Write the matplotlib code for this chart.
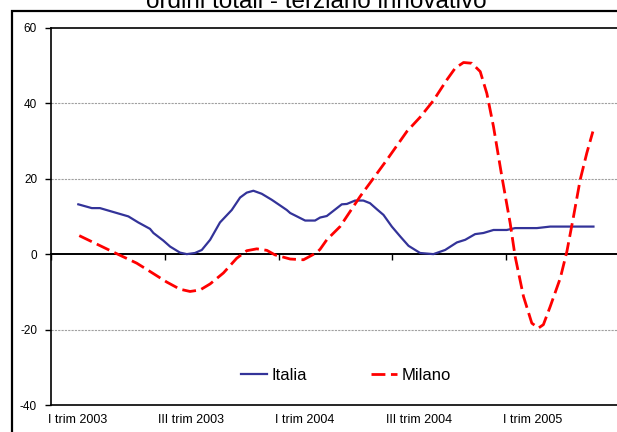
import matplotlib
matplotlib.use('Agg')
import matplotlib.pyplot as plt
from matplotlib.patches import Rectangle

# time in months from the left edge of the axis
italia_mesi = [1.44, 2.15, 2.58, 4.08, 4.60, 5.22, 5.40, 5.92, 6.28, 6.80, 7.16,
               7.59, 7.95, 8.39, 8.91, 9.53, 9.97, 10.32, 10.67, 11.11, 11.64,
               12.08, 12.43, 12.61, 13.40, 13.92, 14.19, 14.54, 15.33, 15.60,
               16.03, 16.47, 16.82, 17.18, 17.53, 17.97, 18.41, 18.85, 19.46,
               20.16, 20.78, 21.40, 21.84, 22.36, 22.80, 23.33, 24.03, 24.47,
               25.62, 26.32, 28.60]
italia = [13.2, 12.2, 12.2, 10.0, 8.4, 6.7, 5.6, 3.6, 2.0, 0.4, 0.0,
          0.3, 1.1, 3.8, 8.4, 11.7, 15.0, 16.3, 16.8, 16.0, 14.4,
          12.9, 11.7, 10.9, 8.9, 8.9, 9.7, 10.1, 13.2, 13.3,
          14.2, 14.2, 13.5, 11.9, 10.4, 7.3, 4.7, 2.2, 0.3,
          0.0, 1.1, 3.1, 3.8, 5.3, 5.6, 6.4, 6.4, 6.9,
          6.9, 7.3, 7.3]

milano_mesi = [1.49, 3.47, 4.52, 5.22, 6.10, 6.80, 7.33, 7.86, 8.39, 9.09, 9.79,
               10.32, 10.85, 11.38, 11.81, 12.61, 13.31, 14.01, 14.19, 14.54,
               15.24, 16.30, 17.00, 17.71, 18.76, 19.46, 20.16, 20.87, 21.31,
               21.75, 22.19, 22.63, 22.98, 23.33, 23.77, 24.21, 24.47, 24.91,
               25.35, 25.70, 25.96, 26.32, 26.85, 27.20, 27.55, 27.90, 28.25,
               28.57]
milano = [4.9, 0.1, -2.4, -4.6, -7.4, -9.3, -9.9, -9.5, -7.9, -5.0, -1.1,
          0.9, 1.4, 1.0, -0.2, -1.3, -1.5, 0.4, 1.3, 3.8,
          7.3, 15.3, 20.1, 25.0, 32.5, 36.3, 40.7, 46.2, 49.3,
          50.8, 50.6, 48.4, 42.6, 33.8, 20.6, 8.2, -0.6, -11.2,
          -18.3, -19.6, -18.7, -13.9, -6.4, 0.7, 10.0, 19.7, 26.8,
          32.5]

etichette = ['I trim 2003', 'III trim 2003', 'I trim 2004', 'III trim 2004',
             'I trim 2005']
etichette_pos = [1.4, 7.4, 13.4, 19.4, 25.4]
tacche = [0, 6, 12, 18, 24, 30]

plt.rcParams['font.family'] = ['Liberation Sans', 'DejaVu Sans']

W, H = 617, 432
fig = plt.figure(figsize=(W / 100, H / 100), dpi=100)

# outer chart frame (partly cut off by the image edge)
fig.patches.append(Rectangle((12 / W, -0.1), 1.2, 1.1 - 11 / H,
                             transform=fig.transFigure, fill=False,
                             edgecolor='black', linewidth=1.6))
# the title sits mostly above the image, as in the original
fig.text(316 / W, 1 - 7.5 / H, 'ordini totali - terziario innovativo',
         ha='center', va='baseline', fontsize=17.5)

ax = fig.add_axes([51 / W, 1 - 405 / H, 569 / W, (405 - 27.8) / H])
ax.set_xlim(0, 30)
ax.set_ylim(-40, 60)

for y in (-20, 20, 40):
    ax.axhline(y, color='#a0a0a0', linewidth=0.8, linestyle=(0, (2, 1)),
               zorder=1)

ax.plot(italia_mesi, italia, color='#333399', linewidth=1.6, zorder=3,
        label='Italia')
ax.plot(milano_mesi, milano, color='#ff0000', linewidth=2.0, zorder=3,
        linestyle=(0, (5, 2)), label='Milano')

for s in ax.spines.values():
    s.set_color('black')
    s.set_linewidth(1.2)

ax.set_yticks([-40, -20, 0, 20, 40, 60])
ax.set_yticklabels(['-40', '-20', '0', '20', '40', '60'])
ax.tick_params(axis='y', direction='out', length=4, width=1, pad=6,
               labelsize=8.5)
ax.set_xticks(etichette_pos)
ax.set_xticklabels(etichette)
ax.tick_params(axis='x', length=0, pad=6.5, labelsize=9)

# category axis through zero with its own tick marks
zero = ax.secondary_xaxis(0.4)
zero.set_xticks(tacche)
zero.set_xticklabels([''] * len(tacche))
zero.tick_params(direction='out', length=4, width=1, color='black')
zero.spines['bottom'].set_linewidth(1.4)
zero.spines['bottom'].set_color('black')

ax.legend(loc='center', bbox_to_anchor=(346 / W, 1 - 375 / H),
          bbox_transform=fig.transFigure, ncol=2, frameon=False,
          fontsize=12, handlelength=1.55, columnspacing=3.8,
          handletextpad=0.3)

fig.savefig('out.png', dpi=100)
